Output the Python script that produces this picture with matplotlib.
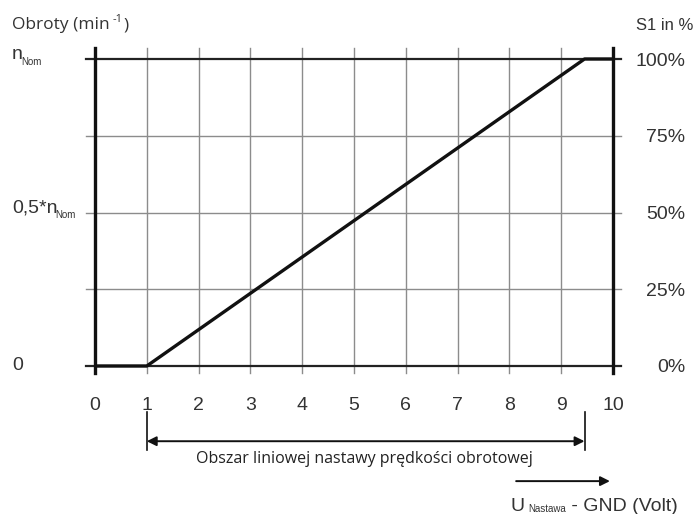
import matplotlib
matplotlib.use("Agg")
import matplotlib.pyplot as plt
import matplotlib.transforms as mtransforms

plt.rcParams["font.family"] = ["Liberation Sans", "DejaVu Sans"]

# characteristic: speed vs. setpoint voltage
volts = [0, 1, 9.45, 10]
speed_pct = [0, 0, 100, 100]

x_ticks = list(range(0, 11))
grid_y = [25, 50, 75]
# left labels: (value, main text, subscript)
left_labels = [(0, "0", ""), (50, "0,5*n", "Nom"), (100, "n", "Nom")]
right_ticks = [0, 25, 50, 75, 100]
right_labels = ["0%", "25%", "50%", "75%", "100%"]
linear_range = (1, 9.45)

TXT = "#333333"

fig = plt.figure(figsize=(6.93, 5.14), dpi=100)
ax = fig.add_axes([95 / 693, 1 - 366 / 514, 518 / 693, 307 / 514])
ax.set_xlim(0, 10)
ax.set_ylim(0, 100)
for s in ax.spines.values():
    s.set_visible(False)

# grid, drawn a bit past the frame like the original
for x in x_ticks[1:-1]:
    ax.plot([x, x], [-2.3, 103.6], color="#8c8c8c", lw=1.0, clip_on=False, zorder=1)
for y in grid_y:
    ax.plot([-0.17, 10.15], [y, y], color="#8c8c8c", lw=1.0, clip_on=False, zorder=1)
for y in (0, 100):
    ax.plot([-0.17, 10.15], [y, y], color="#222222", lw=1.6, clip_on=False, zorder=2)
for x in (0, 10):
    ax.plot([x, x], [-2.3, 103.6], color="#111111", lw=2.4, clip_on=False, zorder=3)

ax.plot(volts, speed_pct, color="#111111", lw=2.4, clip_on=False, zorder=4,
        solid_capstyle="butt")

ax.set_xticks(x_ticks)
ax.set_xticklabels([str(v) for v in x_ticks], fontsize=14, color=TXT)
ax.tick_params(axis="x", length=0, pad=22)
ax.set_yticks([])

# left labels with small subscripts
blend = mtransforms.blended_transform_factory(fig.transFigure, ax.transData)
for val, main, sub in left_labels:
    if not sub:
        ax.text(12 / 693, val, main, transform=blend, fontsize=14, color=TXT,
                ha="left", va="center")
        continue
    t = ax.text(12 / 693, val, main, transform=blend, fontsize=14, color=TXT,
                ha="left", va="baseline")
    fig.canvas.draw()
    bb = t.get_window_extent()
    ax.annotate(sub, xy=(bb.x1 / fig.bbox.width, val), xycoords=blend,
                xytext=(-1.5, -4), textcoords="offset points", fontsize=7,
                color=TXT, ha="left", va="baseline")

ax2 = ax.twinx()
ax2.set_ylim(0, 100)
for s in ax2.spines.values():
    s.set_visible(False)
ax2.set_yticks(right_ticks)
ax2.set_yticklabels(right_labels, fontsize=14, color=TXT, ha="right")
ax2.tick_params(axis="y", length=0, pad=52)

# headers
hdr = fig.text(12 / 693, 1 - 25 / 514, "Obroty (min", fontsize=12.5,
               family=["Open Sans", "DejaVu Sans"], color=TXT, va="center")
fig.canvas.draw()
bb = hdr.get_window_extent()
sup = fig.text(bb.x1 / 693 + 0.004, 1 - 19 / 514, "-1", fontsize=8,
               family=["Open Sans", "DejaVu Sans"], color=TXT, va="center")
fig.canvas.draw()
bb = sup.get_window_extent()
fig.text(bb.x1 / 693 + 0.001, 1 - 25 / 514, ")", fontsize=12.5,
         family=["Open Sans", "DejaVu Sans"], color=TXT, va="center")
fig.text(636 / 693, 1 - 25 / 514, "S1 in %", fontsize=12, color=TXT, va="center")

# linear range dimension arrow
y_dim = -24.5
for x in linear_range:
    ax.plot([x, x], [-15, -27.5], color="#111111", lw=1.2, clip_on=False)
ax.annotate("", xy=(linear_range[0], y_dim), xytext=(linear_range[1], y_dim),
            xycoords="data", annotation_clip=False,
            arrowprops=dict(arrowstyle="<|-|>", color="#111111", lw=1.4,
                            mutation_scale=14, shrinkA=0, shrinkB=0))
ax.text(5.2, -30.3, "Obszar liniowej nastawy prędkości obrotowej", fontsize=11.5,
        family=["Open Sans", "DejaVu Sans"], ha="center", va="center", color="#222222",
        clip_on=False)

# voltage axis arrow and label
ax.annotate("", xy=(9.94, -37.5), xytext=(8.13, -37.5), xycoords="data",
            annotation_clip=False,
            arrowprops=dict(arrowstyle="-|>", color="#111111", lw=1.4,
                            mutation_scale=14, shrinkA=0, shrinkB=0))
u = fig.text(511 / 693, 1 - 511 / 514, "U", fontsize=14, color=TXT, va="baseline")
fig.canvas.draw()
bb = u.get_window_extent()
nst = fig.text(bb.x1 / 693 + 0.004, 1 - 512 / 514, "Nastawa", fontsize=7,
               color=TXT, va="baseline")
fig.canvas.draw()
bb = nst.get_window_extent()
fig.text(bb.x1 / 693, 1 - 511 / 514, " - GND (Volt)", fontsize=14, color=TXT,
         va="baseline")

fig.savefig("out.png", dpi=100)
